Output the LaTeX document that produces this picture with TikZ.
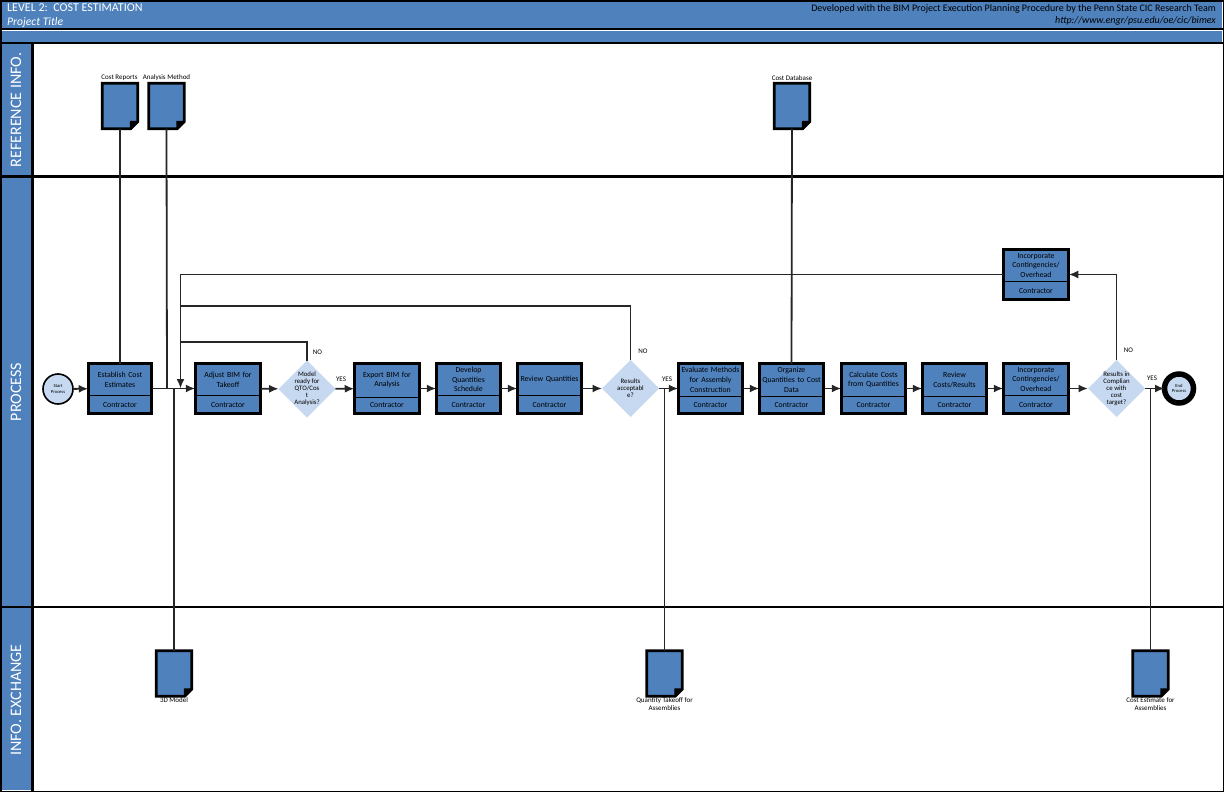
\documentclass[tikz,border=0pt]{standalone}
\usepackage{fontspec}
\setmainfont{Carlito}
\usetikzlibrary{arrows.meta,shapes.geometric}
\definecolor{laneblue}{HTML}{4F81BD}
\definecolor{palediamond}{HTML}{C6D9F1}
\definecolor{connector}{HTML}{262626}
\tikzset{
  x=1pt,y=-1pt,
  band/.style={fill=laneblue,draw=none},
  rule/.style={fill=black,draw=none},
  lanetext/.style={text=white,rotate=90,font=\fontsize{16}{16}\selectfont,inner sep=0pt},
  procbox/.style={draw=black,line width=2.6pt,fill=laneblue,rectangle,inner sep=0pt,outer sep=0pt},
  boxtext/.style={align=center,inner sep=0pt,font=\fontsize{7.8}{9.6}\selectfont,text=black},
  dia/.style={diamond,aspect=1,fill=palediamond,draw=none,inner sep=0pt,outer sep=0pt,minimum width=57pt,minimum height=57pt},
  diatext/.style={align=center,inner sep=0pt,font=\fontsize{6.8}{6.9}\selectfont,text=black},
  docbase/.style={rectangle,draw=none,inner sep=0pt,outer sep=0pt,minimum width=35.5pt,minimum height=45.5pt},
  docline/.style={draw=black,line width=2.6pt,fill=laneblue,line join=miter},
  doclabel/.style={align=center,inner sep=0pt,font=\fontsize{7}{8.4}\selectfont,text=black},
  yn/.style={inner sep=0pt,font=\fontsize{7}{7}\selectfont,text=black},
  conn/.style={draw=connector,line width=1.8pt},
  arr/.style={conn,-{Latex[length=9.5pt,width=8pt]}},
}
\newcommand{\procnode}[8]{% name cx cy w h ydiv text role-y
  \node[procbox,minimum width=#4pt,minimum height=#5pt] (#1) at (#2,#3) {};
  \draw[black,line width=1pt] (#1.west |- 0,#6) -- (#1.east |- 0,#6);
  \node[boxtext,text width=#4pt-3pt] (#1-t) at (#2,{(#3-#5/2+#6)/2}) {#7};
  \node[boxtext] (#1-r) at (#2,#8) {Contractor};
}
\newcommand{\docnode}[3]{% name cx cy
  \node[docbase] (#1) at (#2,#3) {};
  \draw[docline] (#1.north west) -- (#1.north east) -- ([yshift=7pt]#1.south east) -- ([xshift=-7pt]#1.south east) -- (#1.south west) -- cycle;
  \fill[black] ([xshift=-8pt]#1.south east) -- ([yshift=8pt]#1.south east) -- ([xshift=-8pt,yshift=8pt]#1.south east) -- cycle;
}
\begin{document}
\begin{tikzpicture}
\useasboundingbox (0,0) rectangle (1224,792);
\fill[white] (0,0) rectangle (1224,792);
% bands
\fill[band] (2,2) rectangle (1222,28);
\fill[band] (2,31) rectangle (1222,42);
\fill[band] (2,44) rectangle (31,790);
% rules
\fill[rule] (0,0) rectangle (1224,2);
\fill[rule] (0,0) rectangle (2,792);
\fill[rule] (1222.5,0) rectangle (1224,792);
\fill[rule] (0,790.5) rectangle (1224,792);
\fill[rule] (0,28) rectangle (1224,30.5);
\fill[rule] (0,42) rectangle (1224,44.5);
\fill[rule] (0,175) rectangle (1224,177.5);
\fill[rule] (0,606) rectangle (1224,608);
\fill[rule] (31,44) rectangle (33.5,792);
% header text
\node[anchor=west,inner sep=0pt,text=white,font=\fontsize{12}{12}\selectfont] (title) at (7,8) {LEVEL 2:\, COST ESTIMATION};
\node[anchor=west,inner sep=0pt,text=white,font=\fontsize{11.6}{12}\itshape\selectfont] (project) at (7,22) {Project Title};
\node[anchor=east,inner sep=0pt,text=black,font=\fontsize{10}{10}\selectfont] (dev) at (1216,8.5) {Developed with the BIM Project Execution Planning Procedure by the Penn State CIC Research Team};
\node[anchor=east,inner sep=0pt,text=black,font=\fontsize{10}{10}\itshape\selectfont] (url) at (1216,21) {http://www.engr/psu.edu/oe/cic/bimex};
% lanes
\node[lanetext] (lane1) at (16,110) {REFERENCE INFO.};
\node[lanetext] (lane2) at (16,392) {PROCESS};
\node[lanetext] (lane3) at (16,700) {INFO. EXCHANGE};
% start / end
\node[circle,draw=black,line width=1.6pt,fill=palediamond,minimum size=30pt,inner sep=0pt,outer sep=0pt,align=center,font=\fontsize{4.6}{5.4}\selectfont] (start) at (58,389) {Start\\Process};
\node[circle,draw=black,line width=5.5pt,fill=palediamond,minimum size=29pt,inner sep=0pt,outer sep=0pt,align=center,font=\fontsize{4.6}{5.4}\selectfont] (finish) at (1179,388.5) {End\\Process};
% process boxes
\procnode{est}{120}{388.5}{63.5}{49.5}{395.5}{Establish Cost\\Estimates}{404.5}
\procnode{adj}{228}{388.5}{65.5}{49.5}{395.5}{Adjust BIM for\\Takeoff}{404.5}
\procnode{exp}{387}{388.5}{65.5}{50.5}{397}{Export BIM for\\Analysis}{405}
\procnode{dev}{468.5}{388.5}{64.5}{50.5}{395.5}{Develop\\Quantities\\Schedule}{404.5}
\procnode{rev}{549.5}{388.5}{64.5}{50.5}{395.5}{Review Quantities}{404.5}
\procnode{eva}{710.5}{388.5}{64.5}{49.5}{396}{Evaluate Methods\\for Assembly\\Construction}{404.5}
\procnode{org}{791.5}{388.5}{64.5}{49.5}{396}{Organize\\Quantities to Cost\\Data}{404.5}
\procnode{cal}{873.5}{388.5}{64.5}{49.5}{396}{Calculate Costs\\from Quantities}{404.5}
\procnode{rco}{954.5}{388.5}{64.5}{49.5}{396}{Review\\Costs/Results}{404.5}
\procnode{inc}{1036}{388.5}{65.5}{49.5}{395}{Incorporate\\Contingencies/\\Overhead}{404.5}
\procnode{top}{1036}{274.5}{65.5}{50.5}{281}{Incorporate\\Contingencies/\\Overhead}{290.5}
% decisions
\node[dia] (d1) at (307,389) {};
\node[diatext] (d1-t) at (307,388.5) {Model\\ready for\\QTO/Cos\\t\\Analysis?};
\node[dia] (d2) at (630.5,388.5) {};
\node[diatext] (d2-t) at (630.5,388.5) {Results\\acceptabl\\e?};
\node[dia] (d3) at (1116.5,388.5) {};
\node[diatext] (d3-t) at (1116.5,388.5) {Results in\\Complian\\ce with\\cost\\target?};
% documents
\docnode{dreports}{120}{106}
\docnode{dmethod}{166.5}{106}
\docnode{ddata}{792}{106}
\docnode{dmodel}{174}{673.5}
\docnode{dqto}{664.5}{673.5}
\docnode{dcost}{1150.5}{673.5}
\node[doclabel] (l1) at (119.5,78) {Cost Reports};
\node[doclabel] (l2) at (166.5,78) {Analysis Method};
\node[doclabel] (l3) at (792,78) {Cost Database};
\node[doclabel] (l4) at (174,700.5) {3D Model};
\node[doclabel] (l5) at (664.5,704) {Quantity Takeoff for\\Assemblies};
\node[doclabel] (l6) at (1150.5,704) {Cost Estimate for\\Assemblies};
% yes/no
\node[yn] (n1) at (317.5,352) {NO};
\node[yn] (y1) at (341,379) {YES};
\node[yn] (n2) at (643,351.5) {NO};
\node[yn] (y2) at (667,379) {YES};
\node[yn] (n3) at (1128.5,350.5) {NO};
\node[yn] (y3) at (1152,378.5) {YES};
% junctions
\coordinate (ja) at (167,388.5);
\coordinate (jb) at (174,388.5);
\coordinate (jc) at (180.5,388.5);
\coordinate (jd) at (664.5,388.5);
\coordinate (je) at (1150.5,388.5);
\coordinate (ra) at (180.5,342);
\coordinate (rb) at (180.5,306);
% connectors
\draw[arr] (start) -- (est);
\draw[arr] (est) -- (adj);
\draw[arr] (adj) -- (d1);
\draw[arr] (d1) -- (exp);
\draw[arr] (exp) -- (dev);
\draw[arr] (dev) -- (rev);
\draw[arr] (rev) -- (d2);
\draw[arr] (d2) -- (eva);
\draw[arr] (eva) -- (org);
\draw[arr] (org) -- (cal);
\draw[arr] (cal) -- (rco);
\draw[arr] (rco) -- (inc);
\draw[arr] (inc) -- (d3);
\draw[arr] (d3) -- (finish);
\draw[arr] (d3.north) |- (top.east);
\draw[arr] (top.west) -| (jc);
\draw[conn] (d1.north) |- (ra);
\draw[conn] (d2.north) |- (rb);
\draw[conn] (dreports.south) -- (est.north);
\draw[conn] (dmethod.south) -- (ja);
\draw[conn] (ddata.south) -- (org.north);
\draw[conn] (jb) -- (dmodel.north);
\draw[conn] (jd) -- (dqto.north);
\draw[conn] (je) -- (dcost.north);
\end{tikzpicture}
\end{document}
